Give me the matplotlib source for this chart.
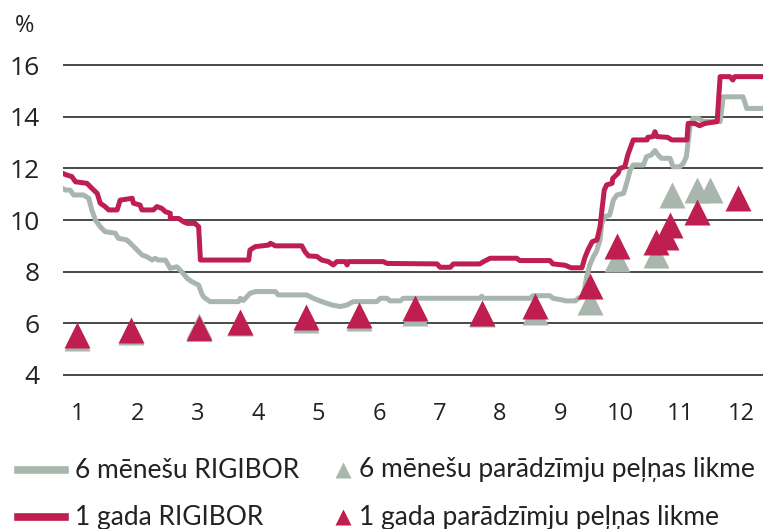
import matplotlib
matplotlib.use("Agg")
import matplotlib.pyplot as plt
from matplotlib.lines import Line2D
from matplotlib import font_manager

# ---- data (x in months, values in %) ----
months = list(range(1, 13))
month_labels = [str(m) for m in months]
y_ticks = [4, 6, 8, 10, 12, 14, 16]

rigibor_1y_x = [0.75, 0.83, 0.91, 0.97, 1.16, 1.24, 1.33, 1.38, 1.46, 1.52, 1.66, 1.71, 1.91, 1.93,
                2.04, 2.07, 2.26, 2.32, 2.40, 2.46, 2.54, 2.54, 2.68, 2.76, 2.82, 2.95, 3.01, 3.04,
                3.84, 3.86, 3.95, 4.17, 4.20, 4.28, 4.72, 4.77, 4.83, 4.97, 5.05, 5.16, 5.24, 5.30,
                5.44, 5.47, 5.49, 6.07, 6.13, 6.96, 7.01, 7.18, 7.23, 7.67, 7.73, 7.84, 8.28, 8.33,
                8.83, 8.88, 9.08, 9.18, 9.36, 9.41, 9.46, 9.53, 9.61, 9.66, 9.73, 9.77, 9.86, 9.87,
                9.96, 9.99, 10.07, 10.12, 10.21, 10.44, 10.45, 10.54, 10.57, 10.60, 10.78, 10.85,
                11.10, 11.12, 11.23, 11.31, 11.40, 11.60, 11.65, 11.81, 11.86, 11.89, 12.36]
rigibor_1y = [11.81, 11.74, 11.68, 11.48, 11.42, 11.23, 11.03, 10.65, 10.52, 10.39, 10.39, 10.77, 10.84, 10.65,
              10.58, 10.39, 10.39, 10.52, 10.45, 10.32, 10.26, 10.06, 10.06, 9.93, 9.87, 9.87, 9.74, 8.45,
              8.45, 8.84, 8.97, 9.03, 9.10, 9.00, 9.00, 8.78, 8.61, 8.59, 8.45, 8.39, 8.26, 8.39,
              8.39, 8.26, 8.39, 8.39, 8.32, 8.30, 8.17, 8.17, 8.30, 8.30, 8.39, 8.52, 8.52, 8.43,
              8.43, 8.30, 8.25, 8.15, 8.15, 8.55, 8.84, 9.16, 9.23, 9.74, 11.16, 11.36, 11.42, 11.61,
              11.81, 12.00, 12.06, 12.52, 13.10, 13.10, 13.20, 13.23, 13.42, 13.23, 13.20, 13.10,
              13.10, 13.74, 13.74, 13.65, 13.74, 13.81, 15.55, 15.55, 15.42, 15.55, 15.55]

rigibor_6m_x = [0.75, 0.80, 0.88, 0.94, 1.10, 1.19, 1.24, 1.30, 1.38, 1.46, 1.63, 1.68, 1.82, 1.91,
                1.99, 2.07, 2.15, 2.24, 2.29, 2.34, 2.46, 2.54, 2.65, 2.73, 2.82, 2.90, 3.01, 3.06,
                3.09, 3.12, 3.20, 3.67, 3.70, 3.75, 3.86, 3.95, 4.28, 4.33, 4.80, 4.91, 5.05, 5.22,
                5.35, 5.47, 5.57, 5.96, 6.02, 6.13, 6.18, 6.35, 6.40, 7.67, 7.70, 7.73, 8.50, 8.55,
                8.83, 8.88, 9.05, 9.08, 9.25, 9.30, 9.38, 9.44, 9.49, 9.55, 9.60, 9.66, 9.69, 9.74,
                9.82, 9.88, 9.94, 10.05, 10.10, 10.16, 10.21, 10.38, 10.43, 10.51, 10.57, 10.62,
                10.68, 10.82, 10.87, 10.98, 11.04, 11.09, 11.15, 11.20, 11.29, 11.37, 11.65, 11.70,
                12.03, 12.09, 12.36]
rigibor_6m = [11.23, 11.16, 11.16, 10.97, 10.97, 10.84, 10.39, 10.00, 9.74, 9.55, 9.49, 9.29, 9.23, 9.03,
              8.84, 8.65, 8.58, 8.45, 8.52, 8.45, 8.45, 8.13, 8.19, 8.00, 7.74, 7.61, 7.48, 7.16,
              7.03, 6.97, 6.84, 6.84, 6.97, 6.88, 7.16, 7.23, 7.23, 7.10, 7.10, 6.97, 6.84, 6.71,
              6.65, 6.71, 6.84, 6.84, 6.97, 6.97, 6.87, 6.87, 6.97, 6.97, 7.05, 6.97, 6.97, 7.07,
              7.07, 6.97, 6.90, 6.87, 6.87, 6.97, 7.05, 7.81, 8.26, 8.58, 8.78, 9.23, 9.87, 10.13,
              10.19, 10.77, 10.97, 11.03, 11.42, 11.94, 12.13, 12.13, 12.45, 12.52, 12.69, 12.52,
              12.39, 12.39, 12.06, 12.06, 12.19, 12.45, 13.61, 13.94, 13.94, 13.81, 13.81, 14.77,
              14.77, 14.32, 14.32]

tbill_6m_x = [1.00, 1.89, 3.02, 3.69, 4.79, 5.67, 6.59, 7.71, 8.58, 9.49, 9.94, 10.59, 10.85, 11.26, 11.48]
tbill_6m = [5.45, 5.68, 5.90, 6.00, 6.13, 6.20, 6.40, 6.35, 6.45, 6.84, 8.48, 8.65, 10.97, 11.16, 11.16]

tbill_1y_x = [1.00, 1.89, 3.02, 3.69, 4.79, 5.67, 6.59, 7.71, 8.58, 9.49, 9.94, 10.59, 10.76, 10.82, 11.26, 11.94]
tbill_1y = [5.55, 5.74, 5.81, 6.06, 6.26, 6.32, 6.58, 6.39, 6.67, 7.45, 9.00, 9.16, 9.35, 9.81, 10.32, 10.84]

labels = ["6 mēnešu RIGIBOR", "1 gada RIGIBOR",
          "6 mēnešu parādzīmju peļņas likme", "1 gada parādzīmju peļņas likme"]

# ---- style ----
RED = "#BE1E50"
GREY = "#A8B6AE"
names = {f.name for f in font_manager.fontManager.ttflist}
tick_font = "Open Sans" if "Open Sans" in names else "DejaVu Sans"
leg_font = "Lato" if "Lato" in names else tick_font

W, H = 763, 529
fig = plt.figure(figsize=(W / 100, H / 100), dpi=100)
ylo, yhi = 3.5, 16.5
ax = fig.add_axes([63 / W, 0.2667, 700 / W, 0.6348])
ax.set_xlim(0.763, 12.36)
ax.set_ylim(ylo, yhi)

for v in y_ticks:
    ax.axhline(v, color="#3a3a3a", lw=1.3, zorder=1)

ax.plot(rigibor_6m_x, rigibor_6m, color=GREY, lw=3.6, solid_joinstyle="round", zorder=3)
ax.plot(rigibor_1y_x, rigibor_1y, color=RED, lw=3.6, solid_joinstyle="round", zorder=4)
ax.plot(tbill_6m_x, tbill_6m, ls="none", marker="^", ms=19, color=GREY, mec="none", zorder=5)
ax.plot(tbill_1y_x, tbill_1y, ls="none", marker="^", ms=19, color=RED, mec="none", zorder=6)

for s in ax.spines.values():
    s.set_visible(False)
ax.set_yticks(y_ticks)
ax.set_yticklabels([str(v) for v in y_ticks], fontsize=19, family=tick_font, color="#222222")
ax.set_xticks(months)
ax.set_xticklabels(month_labels, fontsize=17, family=tick_font, color="#222222")
ax.tick_params(axis="y", length=0, pad=17)
ax.tick_params(axis="x", length=0, pad=10)
ax.set_facecolor("none")

fig.text(15 / W, 1 - 26 / H, "%", fontsize=17, family=tick_font, color="#222222", va="center", ha="left")

# ---- legend ----
rows = [1 - 470 / H, 1 - 517 / H]
for y, c in zip(rows, [GREY, RED]):
    fig.add_artist(Line2D([18 / W, 65 / W], [y, y], color=c, lw=5.5, transform=fig.transFigure))
for y, c in zip(rows, [GREY, RED]):
    fig.add_artist(Line2D([343 / W], [y], color=c, marker="^", ms=12, ls="none", mec="none",
                          transform=fig.transFigure))
for y, t in zip(rows, labels[:2]):
    fig.text(75 / W, y, t, fontsize=19, family=leg_font, color="#222222", va="center", ha="left")
for y, t in zip(rows, labels[2:]):
    fig.text(359 / W, y, t, fontsize=19, family=leg_font, color="#222222", va="center", ha="left")

fig.savefig("out.png", dpi=100)
